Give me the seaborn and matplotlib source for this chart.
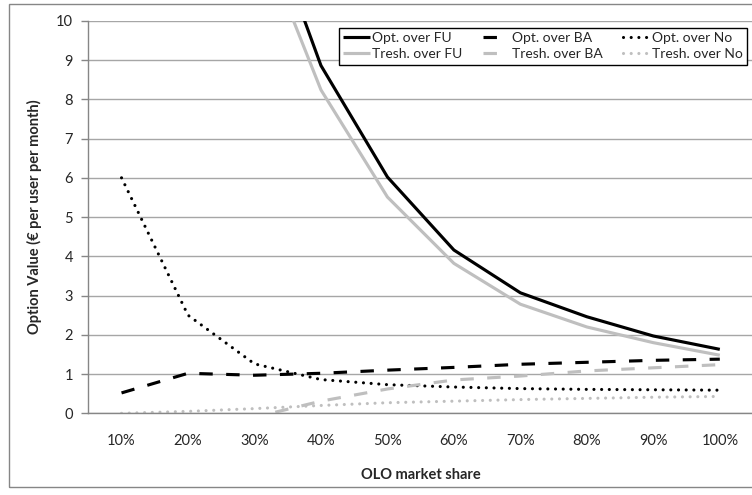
import numpy as np
import pandas as pd
import matplotlib
matplotlib.use("Agg")
import matplotlib.pyplot as plt
import seaborn as sns
from matplotlib.patches import Rectangle

## Data (values above 10 / below 0 are clipped in the original)
shares = ['10%', '20%', '30%', '40%', '50%', '60%', '70%', '80%', '90%', '100%']
opt_fu = [55, 27, 13.5, 8.86, 6.02, 4.16, 3.07, 2.46, 1.97, 1.63]
tresh_fu = [50, 25, 12.5, 8.24, 5.51, 3.82, 2.78, 2.2, 1.8, 1.48]
opt_ba = [0.52, 1.02, 0.97, 1.02, 1.1, 1.17, 1.25, 1.3, 1.35, 1.38]
tresh_ba = [-1.2, -0.6, -0.1, 0.31, 0.62, 0.85, 0.95, 1.08, 1.16, 1.24]
opt_no = [6.0, 2.5, 1.26, 0.86, 0.73, 0.67, 0.63, 0.61, 0.6, 0.59]
tresh_no = [0.0, 0.05, 0.12, 0.2, 0.27, 0.31, 0.35, 0.38, 0.41, 0.43]

sns.set_style("white")
plt.rcParams['font.family'] = ['Lato', 'DejaVu Sans']

fig = plt.figure(figsize=(7.52, 4.95), dpi=100)
ax = fig.add_axes([0.1174, 0.165, 0.884, 0.793])

# outer chart border
fig.patches.append(Rectangle((9 / 752, 1 - 487 / 495), 1.0, (487 - 4) / 495,
                             transform=fig.transFigure, fill=False,
                             edgecolor='#868686', lw=1, zorder=0))

black = '#000000'
gray = '#BFBFBF'
lw = 2.25
solid = '-'
dashed = (0, (4.3, 4.3))
dotted = (0, (0.01, 2.45))

series = [
    ('Opt. over FU', opt_fu, black, solid),
    ('Tresh. over FU', tresh_fu, gray, solid),
    ('Opt. over BA', opt_ba, black, dashed),
    ('Tresh. over BA', tresh_ba, gray, dashed),
    ('Opt. over No', opt_no, black, dotted),
    ('Tresh. over No', tresh_no, gray, dotted),
]

# draw grey first so black lines sit on top
for name, vals, col, ls in series[::-1]:
    df = pd.DataFrame({'share': shares, 'value': vals})
    sns.lineplot(data=df, x='share', y='value', ax=ax, color=col,
                 linewidth=lw, linestyle=ls, label=name, sort=False,
                 solid_capstyle='butt', dash_capstyle='round' if ls is dotted else 'butt')

ax.set_ylim(0, 10)
ax.set_xlim(-0.5, len(shares) - 0.5)
ax.set_yticks(range(0, 11))
ax.yaxis.grid(True, color='#A6A6A6', lw=1)
ax.xaxis.grid(False)

ax.set_xticks(range(len(shares)))
ax.set_xticklabels(shares)
ax.set_xticks(np.arange(-0.5, len(shares)), minor=True)
ax.tick_params(axis='x', which='major', length=0, pad=15, labelsize=10.5)
ax.tick_params(axis='x', which='minor', length=5, color='#868686', width=1)
ax.tick_params(axis='y', length=5, color='#868686', width=1, labelsize=10.5, pad=6)
ax.tick_params(left=True, bottom=True)

for s in ['top', 'right']:
    ax.spines[s].set_visible(False)
for s in ['left', 'bottom']:
    ax.spines[s].set_color('#868686')
    ax.spines[s].set_linewidth(1)

ax.set_xlabel('OLO market share', fontweight='bold', fontsize=10.5, labelpad=14)
ax.set_ylabel('Option Value (€ per user per month)', fontweight='bold', fontsize=10.5, labelpad=10)

handles, labels = ax.get_legend_handles_labels()
handles, labels = handles[::-1], labels[::-1]
leg = ax.legend(handles, labels, ncol=3, loc='upper left',
                bbox_to_anchor=(339 / 752, 1 - 28 / 495), bbox_transform=fig.transFigure,
                borderaxespad=0, frameon=True, fancybox=False, framealpha=1,
                edgecolor='black', fontsize=10, handlelength=1.9, handletextpad=0.2,
                columnspacing=1.45, labelspacing=0.3, borderpad=0.3)
leg.get_frame().set_linewidth(1)

fig.savefig('out.png', dpi=100)
